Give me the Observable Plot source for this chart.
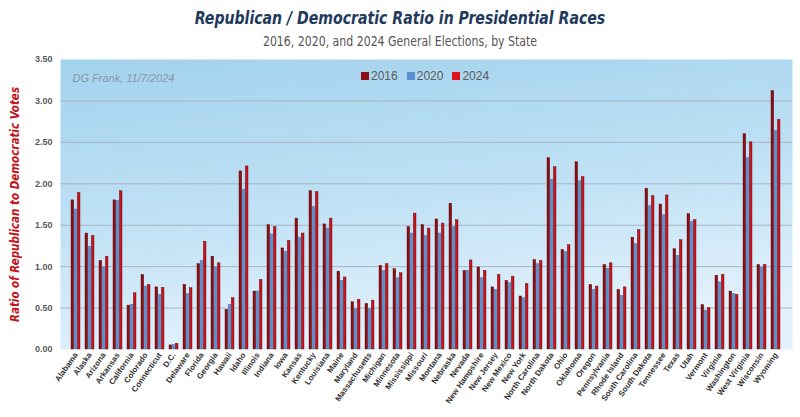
<!DOCTYPE html>
<html><head><meta charset="utf-8">
<script src="https://cdn.jsdelivr.net/npm/d3@7"></script>
<script src="https://cdn.jsdelivr.net/npm/@observablehq/plot@0.6"></script>
<style>
body{margin:0;background:#fff;width:800px;height:417px;overflow:hidden;position:relative;font-family:"Liberation Sans",Arial,sans-serif}
#title{position:absolute;top:7px;left:0;width:800px;text-align:center;font-style:italic;font-weight:bold;font-size:18px;font-family:"DejaVu Sans Condensed","Liberation Sans",sans-serif;color:#1f3a5c;line-height:22px;transform:scaleX(0.87);transform-origin:center}
#sub{position:absolute;top:33px;left:0;width:800px;text-align:center;font-size:14px;font-family:"DejaVu Sans Condensed","Liberation Sans",sans-serif;color:#555;line-height:17px;transform:scaleX(0.87);transform-origin:center}
#chart{position:absolute;top:52px;left:0}
#legend{position:absolute;top:69px;left:361px;display:flex;gap:9px;font-size:12px;color:#5a5a5a;line-height:15px}
#legend span.sw{display:inline-block;width:8px;height:8px;margin-right:2px;vertical-align:0px}
</style>
</head><body>
<div id="title">Republican / Democratic Ratio in Presidential Races</div>
<div id="sub">2016, 2020, and 2024 General Elections, by State</div>
<div id="chart"></div>
<div id="legend"></div>
<script>
const states = ["Alabama","Alaska","Arizona","Arkansas","California","Colorado","Connecticut","D.C.","Delaware","Florida","Georgia","Hawaii","Idaho","Illinois","Indiana","Iowa","Kansas","Kentucky","Louisiana","Maine","Maryland","Massachusetts","Michigan","Minnesota","Mississippi","Missouri","Montana","Nebraska","Nevada","New Hampshire","New Jersey","New Mexico","New York","North Carolina","North Dakota","Ohio","Oklahoma","Oregon","Pennsylvania","Rhode Island","South Carolina","South Dakota","Tennessee","Texas","Utah","Vermont","Virginia","Washington","West Virginia","Wisconsin","Wyoming"];
const v2016 = [1.80,1.40,1.07,1.80,0.53,0.90,0.75,0.05,0.78,1.03,1.12,0.48,2.15,0.70,1.50,1.22,1.58,1.91,1.51,0.94,0.57,0.55,1.01,0.97,1.48,1.50,1.57,1.76,0.95,0.99,0.75,0.83,0.64,1.08,2.31,1.20,2.26,0.78,1.02,0.72,1.35,1.94,1.75,1.21,1.635,0.535,0.89,0.70,2.60,1.02,3.12];
const v2020 = [1.69,1.24,0.99,1.79,0.54,0.76,0.66,0.056,0.67,1.07,0.99,0.54,1.93,0.70,1.39,1.18,1.35,1.72,1.46,0.83,0.49,0.49,0.95,0.86,1.40,1.37,1.40,1.48,0.95,0.86,0.72,0.80,0.62,1.03,2.05,1.18,2.03,0.72,0.975,0.65,1.27,1.73,1.62,1.13,1.54,0.47,0.81,0.67,2.31,0.99,2.64];
const v2024 = [1.89,1.37,1.12,1.91,0.68,0.78,0.745,0.07,0.74,1.30,1.04,0.62,2.21,0.84,1.48,1.31,1.40,1.90,1.58,0.87,0.60,0.59,1.03,0.92,1.64,1.46,1.52,1.56,1.075,0.95,0.90,0.88,0.79,1.07,2.20,1.26,2.08,0.76,1.04,0.75,1.44,1.85,1.86,1.32,1.56,0.50,0.90,0.66,2.50,1.02,2.77];
const years = ["2016","2020","2024"];
const colors = ["#8a0e13","#5b8fd1","#c8151d"];
const yTicks = [0,0.5,1,1.5,2,2.5,3,3.5];
const gridTicks = [0.5,1,1.5,2,2.5,3];

const data = states.map((s,i)=>({state:s, v2016:v2016[i], v2020:v2020[i], v2024:v2024[i]}));

const W = 800, H = 365, mL = 60, mR = 8, mT = 7, mB = 68;
const pIn = 0.34, pOut = 0.18;
const step = (W - mL - mR) / (states.length - pIn + 2*pOut);
const third = step*(1-pIn)/3;

const series = ["v2016","v2020","v2024"];
const bars = series.map((k,j)=>Plot.barY(data,{x:"state", y:k, fill:colors[j], stroke: j===1 ? "#4d76a8" : "#5c070b", strokeWidth:0.4, insetLeft: j*third, insetRight:(2-j)*third}));

const chart = Plot.plot({
  width: W, height: H, marginLeft: mL, marginRight: mR, marginTop: mT, marginBottom: mB,
  style: {fontFamily: "'Liberation Sans', Arial, sans-serif", background: "transparent", overflow: "visible"},
  x: {domain: states, paddingInner: pIn, paddingOuter: pOut, label: null},
  y: {domain: [0,3.5], label: null},
  marks: [
    Plot.frame({fill:"#c4e3f5"}),
    Plot.ruleY(gridTicks,{stroke:"#a8b6c0", strokeWidth:1}),
    ...bars,
    Plot.axisY({ticks: yTicks, tickFormat: d3.format(".2f"), tickSize:0, tickPadding:8, fontWeight:"bold", fill:"#5a5a5a", fontSize:9, label:null}),
    Plot.axisX({tickRotate:-55, tickSize:0, tickPadding:4, fontWeight:"bold", fill:"#333", fontSize:8, label:null}),
    Plot.text(["Ratio of Republican to Democratic Votes"],{text:d=>d, frameAnchor:"left", textAnchor:"middle", dx:-45, rotate:-90, fill:"#c0131b", fontWeight:"bold", fontStyle:"italic", fontSize:11.5, fontFamily:"'DejaVu Sans Condensed','Liberation Sans',sans-serif"}),
    Plot.text(["DG Frank, 11/7/2024"],{text:d=>d, frameAnchor:"top-left", dx:12, dy:15, textAnchor:"start", fill:"#8497a6", fontStyle:"italic", fontSize:11})
  ]
});

const svg = d3.select(chart);
const defs = svg.insert("defs", ":first-child");
const g = defs.append("linearGradient").attr("id","bg").attr("x1","0").attr("y1","0").attr("x2","0.25").attr("y2","1");
g.append("stop").attr("offset","0%").attr("stop-color","#a3d2ee");
g.append("stop").attr("offset","55%").attr("stop-color","#bfe1f5");
g.append("stop").attr("offset","100%").attr("stop-color","#e2f1fb");
svg.selectAll('[aria-label="frame"], [aria-label="frame"] rect').attr("fill","url(#bg)");
document.getElementById("chart").appendChild(chart);

const leg = d3.select("#legend");
years.forEach((y,j)=>{
  const it = leg.append("div");
  it.append("span").attr("class","sw").style("background", j===2 ? "#e0121b" : colors[j]);
  it.append("span").text(y);
});
</script>
</body></html>
